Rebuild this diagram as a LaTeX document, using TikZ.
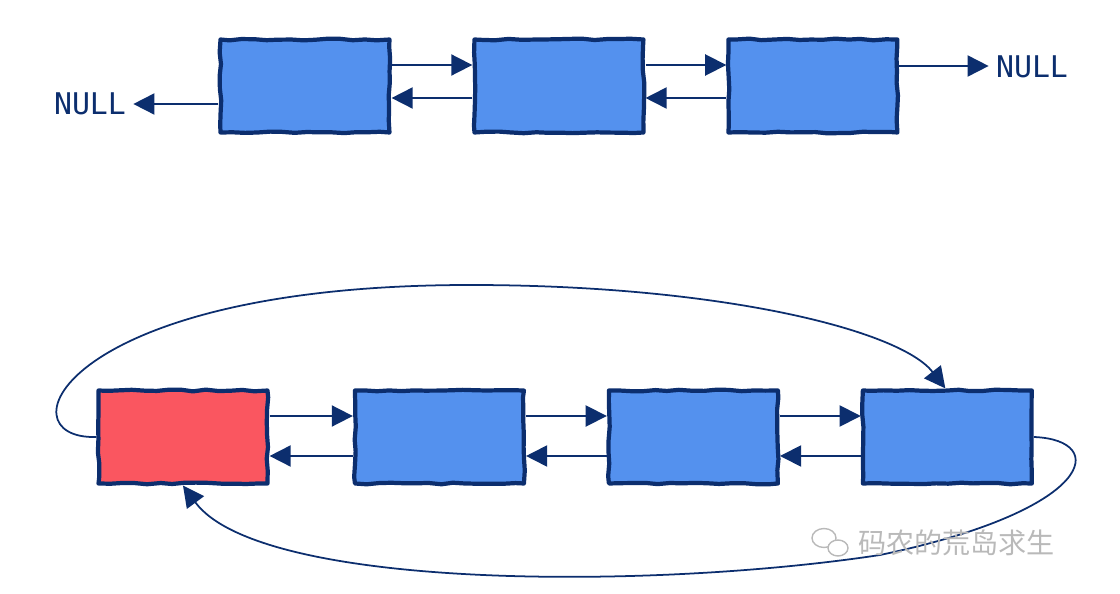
\documentclass[tikz,border=0pt]{standalone}
\usepackage{fontspec}
\usepackage{tikz}
\usetikzlibrary{arrows.meta, decorations.pathmorphing}
\newfontfamily\nullmono{DejaVu Sans Mono}
\newfontfamily\cjk{Noto Sans CJK SC}
\definecolor{navy}{RGB}{12,46,110}
\definecolor{cellblue}{RGB}{84,145,238}
\definecolor{cellred}{RGB}{250,86,96}
\definecolor{wmgray}{RGB}{185,185,185}
\tikzstyle{cell} = [rectangle, minimum width=3.38cm, minimum height=1.86cm, draw=navy, line width=2.4pt, line join=round, fill=cellblue, decorate, decoration={random steps, segment length=7pt, amplitude=0.5pt}]
\tikzstyle{headcell} = [cell, fill=cellred]
\tikzstyle{nullnode} = [text=navy, font=\nullmono\fontsize{17}{20}\selectfont, inner sep=4pt]
\tikzstyle{arrow} = [line width=1pt, draw=navy, -{Triangle[length=12pt, width=12pt]}]

\begin{document}
\begin{tikzpicture}[x=0.02cm, y=-0.02cm, node distance=5.08cm]
\pgfmathsetseed{7}
\useasboundingbox (0,0) rectangle (1120,594);

\node (A1) [cell] at (305,86) {};
\node (A2) [cell, right of=A1] {};
\node (A3) [cell, right of=A2] {};
\node (nullL) [nullnode] at (90,104) {NULL};
\node (nullR) [nullnode] at (1032,67) {NULL};
\draw [arrow] ([yshift=-0.36cm]A1.west) -- ([yshift=-0.36cm]A1.west -| nullL.east);
\draw [arrow] ([yshift=0.42cm]A1.east) -- ([yshift=0.42cm]A2.west);
\draw [arrow] ([yshift=-0.24cm]A2.west) -- ([yshift=-0.24cm]A1.east);
\draw [arrow] ([yshift=0.42cm]A2.east) -- ([yshift=0.42cm]A3.west);
\draw [arrow] ([yshift=-0.24cm]A3.west) -- ([yshift=-0.24cm]A2.east);
\draw [arrow] ([yshift=0.4cm]A3.east) -- ([yshift=0.4cm]A3.east -| nullR.west);

\node (B0) [headcell] at (183,437) {};
\node (B1) [cell, right of=B0, xshift=0.05cm] {};
\node (B2) [cell, right of=B1] {};
\node (B3) [cell, right of=B2] {};
\draw [arrow] ([yshift=0.42cm]B0.east) -- ([yshift=0.42cm]B1.west);
\draw [arrow] ([yshift=-0.38cm]B1.west) -- ([yshift=-0.38cm]B0.east);
\draw [arrow] ([yshift=0.42cm]B1.east) -- ([yshift=0.42cm]B2.west);
\draw [arrow] ([yshift=-0.38cm]B2.west) -- ([yshift=-0.38cm]B1.east);
\draw [arrow] ([yshift=0.42cm]B2.east) -- ([yshift=0.42cm]B3.west);
\draw [arrow] ([yshift=-0.38cm]B3.west) -- ([yshift=-0.38cm]B2.east);

\coordinate (topPeak) at (470,285);
\coordinate (bottomTurn) at (880,555);
\draw [arrow] (B0.west) .. controls (0,440) and (60,285) .. (topPeak)
                        .. controls (720,285) and (900,330) .. ([xshift=-0.04cm]B3.north);
\draw [arrow] (B3.east) .. controls (1110,440) and (1095,510) .. (bottomTurn)
                        .. controls (650,590) and (260,590) .. (B0.south);

\node (mark) [text=wmgray, font=\cjk\fontsize{16}{18}\selectfont, anchor=west] at (852,543) {码农的荒岛求生};
\draw [wmgray, line width=0.8pt] (824,538) ellipse (0.24cm and 0.19cm);
\draw [wmgray, line width=0.8pt, fill=white] (838,548) ellipse (0.2cm and 0.16cm);
\end{tikzpicture}
\end{document}
